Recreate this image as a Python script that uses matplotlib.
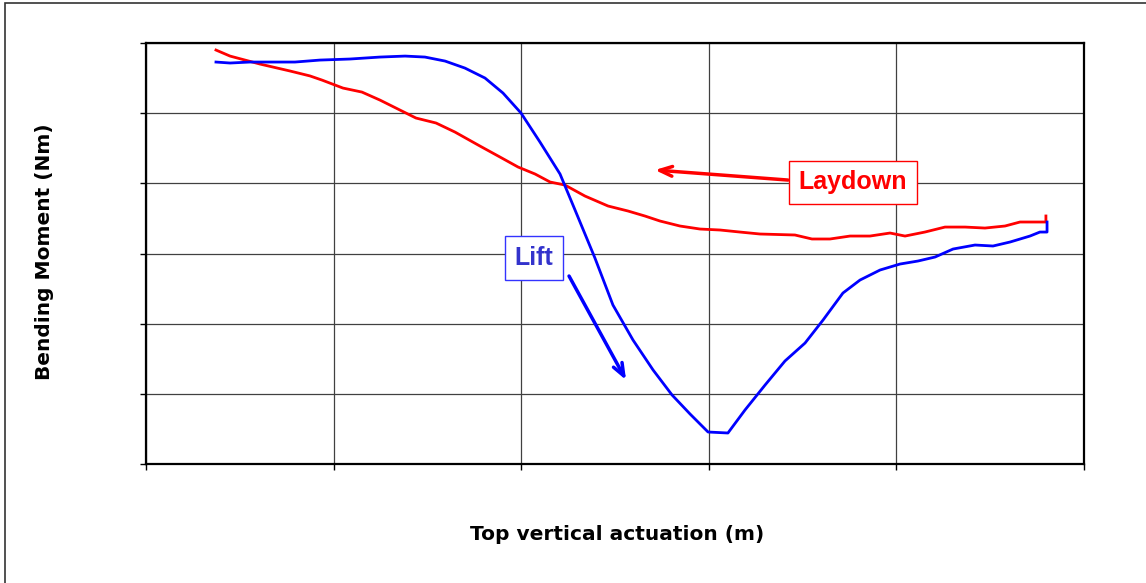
import matplotlib
matplotlib.use('Agg')
import matplotlib.pyplot as plt
from matplotlib.patches import Rectangle

# Lift curve (blue)
lift_x = [0.373, 0.448, 0.554, 0.661, 0.794, 0.927, 1.087, 1.247, 1.381, 1.487,
          1.594, 1.700, 1.807, 1.903, 1.999, 2.100, 2.207, 2.287, 2.393, 2.489,
          2.596, 2.703, 2.804, 2.900, 2.996, 3.102, 3.193, 3.300, 3.406, 3.513,
          3.609, 3.715, 3.806, 3.913, 4.019, 4.115, 4.206, 4.302, 4.419, 4.515,
          4.606, 4.712, 4.765, 4.803, 4.803]
lift_y = [5.729, 5.715, 5.729, 5.729, 5.729, 5.757, 5.772, 5.800, 5.814, 5.800,
          5.743, 5.643, 5.501, 5.287, 5.002, 4.589, 4.133, 3.620, 2.936, 2.266,
          1.767, 1.340, 0.984, 0.713, 0.456, 0.442, 0.770, 1.126, 1.468, 1.724,
          2.052, 2.437, 2.622, 2.765, 2.850, 2.893, 2.950, 3.064, 3.121, 3.107,
          3.164, 3.249, 3.306, 3.306, 3.449]

# Laydown curve (red)
lay_x = [0.373, 0.448, 0.608, 0.768, 0.874, 0.938, 1.050, 1.151, 1.247, 1.343,
         1.439, 1.546, 1.647, 1.780, 1.887, 1.983, 2.074, 2.154, 2.233, 2.340,
         2.463, 2.569, 2.660, 2.740, 2.846, 2.953, 3.060, 3.166, 3.273, 3.459,
         3.550, 3.646, 3.753, 3.859, 3.966, 4.046, 4.152, 4.259, 4.366, 4.472,
         4.579, 4.659, 4.797, 4.797]
lay_y = [5.900, 5.814, 5.700, 5.601, 5.531, 5.472, 5.358, 5.301, 5.187, 5.059,
         4.931, 4.860, 4.731, 4.532, 4.375, 4.233, 4.133, 4.019, 3.976, 3.819,
         3.677, 3.606, 3.534, 3.463, 3.392, 3.349, 3.335, 3.306, 3.278, 3.264,
         3.207, 3.207, 3.249, 3.249, 3.292, 3.249, 3.306, 3.377, 3.377, 3.363,
         3.392, 3.449, 3.449, 3.535]

fig = plt.figure(figsize=(11.46, 5.83), dpi=100)
ax = fig.add_axes([0.1274, 0.2041, 0.8185, 0.7221])

ax.plot(lay_x, lay_y, color='#ff0000', lw=2)
ax.plot(lift_x, lift_y, color='#0000ff', lw=2)

ax.set_xlim(0, 5)
ax.set_ylim(0, 6)
ax.set_xticks(range(6))
ax.set_yticks(range(7))
ax.set_xticklabels([])
ax.set_yticklabels([])
ax.tick_params(direction='out', length=4, width=1, color='black')
ax.grid(True, color='#404040', lw=0.9)
for s in ax.spines.values():
    s.set_linewidth(1.6)
    s.set_color('black')

# annotations
ax.annotate('', xy=(2.713, 4.190), xytext=(3.422, 4.047),
            arrowprops=dict(arrowstyle='->,head_length=0.9,head_width=0.35',
                            color='#ff0000', lw=2.5, shrinkA=0, shrinkB=0))
ax.text(3.769, 4.019, 'Laydown', color='#ff0000', fontsize=18,
        family='Liberation Sans', fontweight='bold', ha='center', va='center',
        bbox=dict(boxstyle='square,pad=0.38', fc='white', ec='#ff0000', lw=1))

ax.annotate('', xy=(2.559, 1.197), xytext=(2.255, 2.679),
            arrowprops=dict(arrowstyle='->,head_length=0.9,head_width=0.35',
                            color='#0000ff', lw=2.5, shrinkA=0, shrinkB=0))
ax.text(2.068, 2.936, 'Lift', color='#3333cc', fontsize=18,
        family='Liberation Sans', fontweight='bold', ha='center', va='center',
        bbox=dict(boxstyle='square,pad=0.4', fc='white', ec='#3333ff', lw=1))

fig.text(617 / 1146, 1 - 535 / 583, 'Top vertical actuation (m)', fontsize=14.5,
         fontweight='bold', ha='center', va='center')
fig.text(45 / 1146, 1 - 252 / 583, 'Bending Moment (Nm)', fontsize=14.5,
         fontweight='bold', ha='center', va='center', rotation=90)

# outer chart frame
fig.patches.append(Rectangle((5 / 1146, -0.1), 1.2, 1 - 3 / 583 + 0.1,
                             transform=fig.transFigure, fill=False,
                             ec='#333333', lw=1.2))

fig.savefig('out.png', dpi=100)
